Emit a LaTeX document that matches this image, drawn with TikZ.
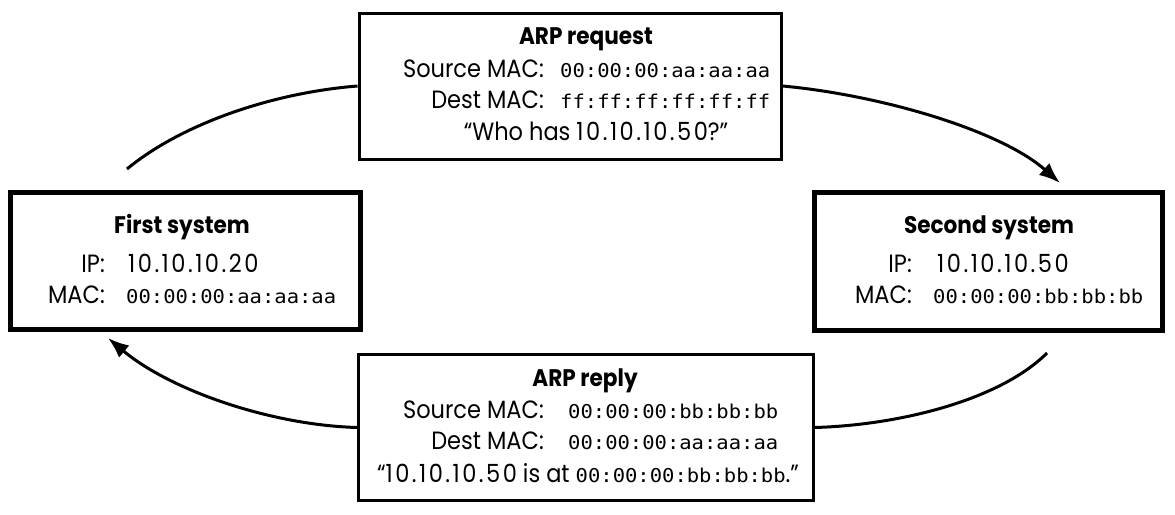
\documentclass[tikz,border=0pt]{standalone}
\usepackage{fontspec}
\setmainfont{Poppins}[FakeStretch=0.9]
\newfontfamily\macfont{DejaVu Sans Mono}[FakeStretch=1.08]
\newfontfamily\numfont{Poppins}[FakeStretch=0.9, LetterSpace=10]
\usetikzlibrary{arrows.meta}
\tikzset{
  thinbox/.style={draw, line width=3pt, inner sep=0pt, fill=white},
  thickbox/.style={draw, line width=5pt, inner sep=0pt, fill=white},
  lbl/.style={anchor=base, inner sep=0pt, font=\fontsize{25}{28}\selectfont},
  ttl/.style={anchor=base, inner sep=0pt, font=\fontsize{24}{28}\selectfont\bfseries},
  key/.style={anchor=base east, inner sep=0pt, font=\fontsize{25}{28}\selectfont},
  val/.style={anchor=base west, inner sep=0pt, font=\fontsize{25}{28}\selectfont\numfont},
  mac/.style={anchor=base west, inner sep=0pt, font=\fontsize{19}{22}\macfont},
  conn/.style={line width=3pt},
  tip/.style={-{Latex[length=21pt,width=16pt]}}
}
\newcommand{\mm}[1]{{\fontsize{19}{22}\macfont #1}}
\newcommand{\nn}[1]{{\numfont #1}}
\begin{document}
\begin{tikzpicture}[x=1pt,y=-1pt]
\useasboundingbox (0,0) rectangle (1175,514);
% boxes
\node[thinbox, minimum width=422pt, minimum height=146pt] (req) at (570,86) {};
\node[thickbox, minimum width=350pt, minimum height=137pt] (first) at (185.5,261) {};
\node[thickbox, minimum width=348pt, minimum height=138pt] (second) at (988.5,261.5) {};
\node[thinbox, minimum width=455pt, minimum height=146pt] (rep) at (586,427.5) {};
% request text
\node[ttl] (reqt) at (586,44) {ARP request};
\node[key] (reqsk) at (544,77) {Source MAC:};
\node[mac] (reqsv) at (560,77) {00:00:00:aa:aa:aa};
\node[key] (reqdk) at (544,108) {Dest MAC:};
\node[mac] (reqdv) at (560,108) {ff:ff:ff:ff:ff:ff};
\node[lbl] (reqq) at (596,140) {“Who has \nn{10.10.10.50}?”};
% first system
\node[ttl] (firstt) at (182,233) {First system};
\node[key] (firstik) at (105,272) {IP:};
\node[val] (firstiv) at (128,272) {10.10.10.20};
\node[key] (firstmk) at (105,303) {MAC:};
\node[mac] (firstmv) at (126,303) {00:00:00:aa:aa:aa};
% second system
\node[ttl] (secondt) at (989,233) {Second system};
\node[key] (secondik) at (912,272) {IP:};
\node[val] (secondiv) at (937,272) {10.10.10.50};
\node[key] (secondmk) at (912,303) {MAC:};
\node[mac] (secondmv) at (933,303) {00:00:00:bb:bb:bb};
% reply text
\node[ttl] (rept) at (585,386) {ARP reply};
\node[key] (repsk) at (544,418) {Source MAC:};
\node[mac] (repsv) at (568,418) {00:00:00:bb:bb:bb};
\node[key] (repdk) at (544,449) {Dest MAC:};
\node[mac] (repdv) at (568,449) {00:00:00:aa:aa:aa};
\node[lbl] (repq) at (588,482) {“\nn{10.10.10.50} is at \mm{00:00:00:bb:bb:bb}.”};
% connectors
\coordinate (c1) at (127,169);
\coordinate (c2) at (1060,183);
\coordinate (c3) at (1047,353);
\coordinate (c4) at (108,338);
\draw[conn] (c1) .. controls (180,125) and (270,93) .. (req.west);
\draw[conn,tip] (req.east) .. controls (880,95) and (1000,130) .. (c2);
\draw[conn] (c3) .. controls (1000,400) and (900,425) .. (rep.east);
\draw[conn,tip] (rep.west) .. controls (270,425) and (170,390) .. (c4);
\end{tikzpicture}
\end{document}
